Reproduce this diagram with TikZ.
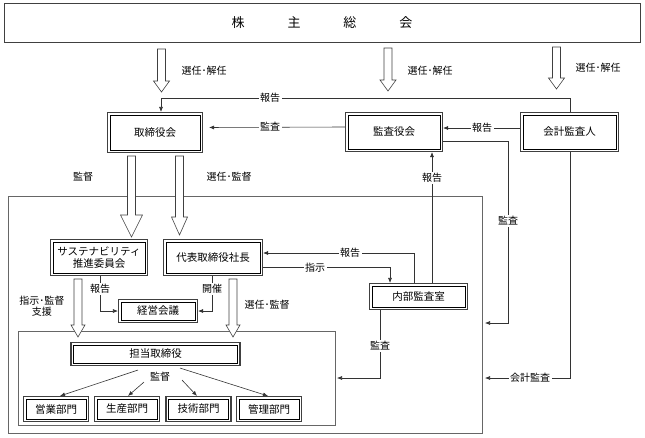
\documentclass[tikz,border=0pt]{standalone}
\usepackage{fontspec}
\setmainfont{Noto Sans CJK JP}
\usetikzlibrary{arrows.meta,calc}
\newcommand{\hollowarr}[6]{%
  \draw[harrow] (#1-#4,#2) -- (#1+#4,#2) -- (#1+#4,#3-#6) -- (#1+#5,#3-#6) -- (#1,#3) -- (#1-#5,#3-#6) -- (#1-#4,#3-#6) -- cycle;}
\begin{document}
\begin{tikzpicture}[x=1pt,y=-1pt,
 box/.style={draw=black!75, line width=1.1pt, fill=white, inner sep=0pt, font=\fontsize{10.5}{12.5}\selectfont, align=center,
   path picture={\draw[black, line width=0.8pt] ([xshift=2.6pt,yshift=-2.6pt]path picture bounding box.north west) rectangle ([xshift=-2.6pt,yshift=2.6pt]path picture bounding box.south east);}},
 lbl/.style={fill=white, inner sep=1.5pt, font=\fontsize{10}{11}\selectfont, align=center},
 conn/.style={draw=black!80, line width=0.6pt},
 arr/.style={conn, -{Latex[length=5pt,width=4pt]}},
 harrow/.style={draw=black!75, line width=0.6pt, fill=white},
 frame/.style={draw=black!60, line width=0.8pt}]
\useasboundingbox (0,0) rectangle (645,437);
% frames
\draw[frame] (8,196) rectangle (482,433);
\draw[frame] (18,331) rectangle (335,425);
% nodes
\node[draw=black!75, line width=0.8pt, minimum width=636pt, minimum height=39pt, inner sep=0pt, font=\fontsize{13}{15}\selectfont] (top) at (322,23) {株\hspace{3.3em}主\hspace{3.3em}総\hspace{3.3em}会};
\node[box, minimum width=95pt, minimum height=40pt] (tb) at (155,132.5) {取締役会};
\node[box, minimum width=97pt, minimum height=39pt] (ka) at (394,132) {監査役会};
\node[box, minimum width=98pt, minimum height=39pt] (kk) at (569.5,132) {会計監査人};
\node[box, minimum width=97pt, minimum height=36pt] (sus) at (99,257.5) {サステナビリティ\\推進委員会};
\node[box, minimum width=99pt, minimum height=36pt] (ceo) at (213,257.5) {代表取締役社長};
\node[box, minimum width=98pt, minimum height=26pt] (naibu) at (418.5,296.5) {内部監査室};
\node[box, minimum width=79pt, minimum height=23pt] (keiei) at (158,311) {経営会議};
\node[box, minimum width=169pt, minimum height=23pt] (tanto) at (155.5,354) {担当取締役};
\node[box, minimum width=65pt, minimum height=25pt] (d1) at (56,409) {営業部門};
\node[box, minimum width=65pt, minimum height=25pt] (d2) at (127,409) {生産部門};
\node[box, minimum width=65pt, minimum height=25pt] (d3) at (198.5,409) {技術部門};
\node[box, minimum width=65pt, minimum height=25pt] (d4) at (269,409) {管理部門};
% hollow arrows
\hollowarr{161.5}{49}{92}{4}{8}{11}
\hollowarr{388}{48}{91}{4}{8}{11}
\hollowarr{556.5}{47}{89}{4}{8}{11}
\hollowarr{131.5}{156}{237}{4}{11}{22}
\hollowarr{179.5}{156}{235}{4}{8}{18}
\hollowarr{78}{279}{337}{4}{7}{12}
\hollowarr{233}{279}{337}{4}{7}{12}
\node[lbl] at (204,71) {選任･解任};
\node[lbl] at (430,71) {選任･解任};
\node[lbl] at (598,68) {選任･解任};
\node[lbl] at (83,177) {監督};
\node[lbl] at (229,177) {選任･監督};
\node[lbl] at (42,306) {指示･監督\\支援};
\node[lbl] at (267,305) {選任･監督};
% connectors
\coordinate (rp) at (570,98);
\draw[arr] ([xshift=0.5]kk.north) -- (rp) -| ([xshift=6]tb.north);
\node[lbl] at (270,98) {報告};
\draw[arr, shorten >=6pt] ([yshift=5]ka.west) -- ([yshift=5]tb.east);
\node[lbl] at (270,127) {監査};
\draw[arr] ([yshift=4]kk.west) -- ([yshift=4]ka.east);
\node[lbl] at (482,128) {報告};
\coordinate (oa) at (485,323);
\draw[arr] ([yshift=-9]ka.east) -| (508,323) -- (oa);
\node[lbl] at (508,221) {監査};
\coordinate (ob) at (485,378);
\draw[arr] ([xshift=0.5]kk.south) |- (ob);
\node[lbl] at (530,378) {会計監査};
\draw[arr] ([xshift=13.5]naibu.north) -- ([xshift=13.5]naibu.north |- ka.south);
\node[lbl] at (432,178) {報告};
\draw[arr] ([xshift=-4.5]naibu.north) |- ([yshift=4.5]ceo.east);
\node[lbl] at (350,253) {報告};
\draw[arr] ([yshift=-10]ceo.east) -| ([xshift=-28.5]naibu.north);
\node[lbl] at (315,268) {指示};
\coordinate (ib) at (337,378);
\draw[arr] ([xshift=-38.5]naibu.south) |- (ib);
\node[lbl] at (380,346) {監査};
\draw[arr] ([xshift=1]sus.south) |- (keiei.west);
\node[lbl] at (100,289) {報告};
\draw[arr] ([xshift=-1]ceo.south) |- (keiei.east);
\node[lbl] at (212,289) {開催};
\draw[arr] ([xshift=-17.5,yshift=-4]tanto.south) -- ([xshift=4]d1.north);
\draw[arr] ([xshift=-11.5,yshift=-16]tanto.south) -- ([xshift=1]d2.north);
\draw[arr] ([xshift=26.5,yshift=-14]tanto.south) -- ([xshift=-1.5]d3.north);
\draw[arr] ([xshift=24.5,yshift=-2]tanto.south) -- ([xshift=-1]d4.north);
\node[lbl, fill=none] at (160,377) {監督};
\end{tikzpicture}
\end{document}
